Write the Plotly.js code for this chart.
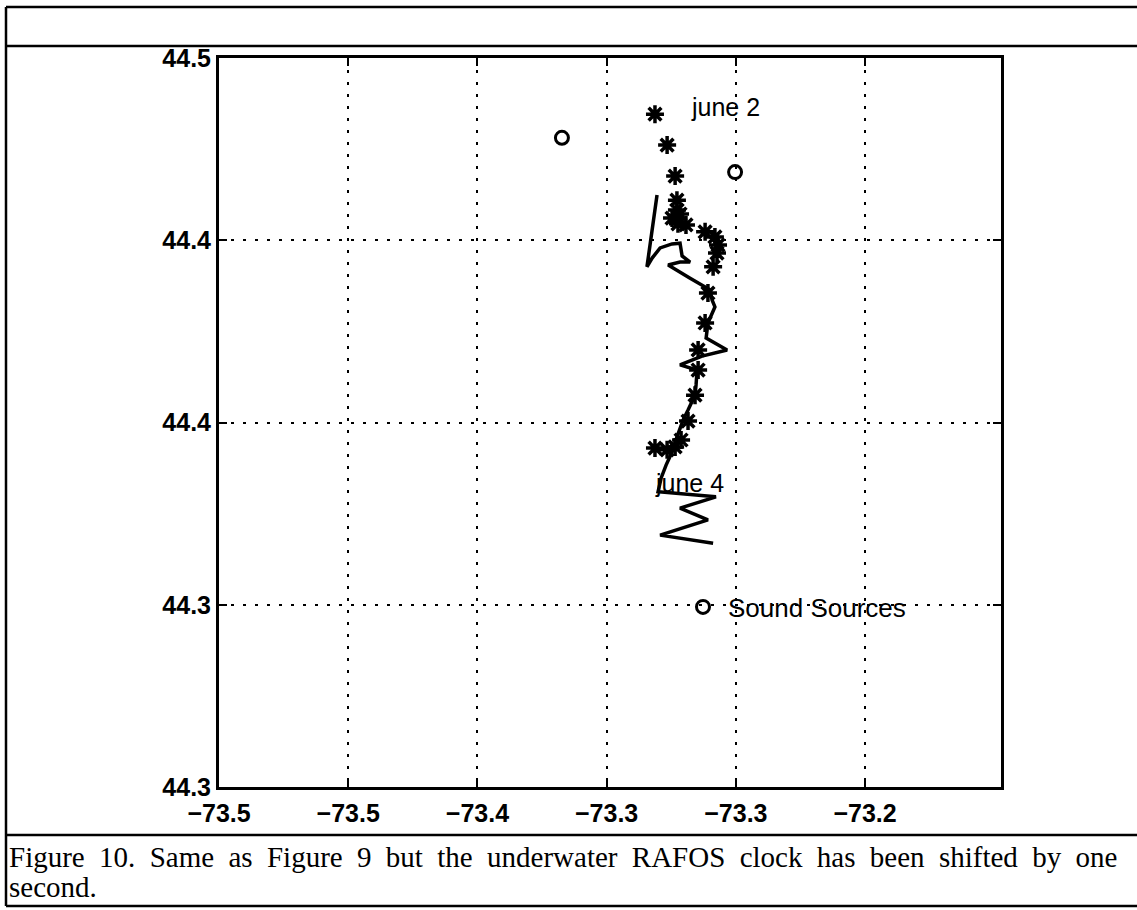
<!DOCTYPE html>
<html><head><meta charset="utf-8">
<script src="https://cdn.plot.ly/plotly-3.0.1.min.js"></script>
<style>html,body{margin:0;padding:0;background:#fff}#chart{width:1137px;height:910px}</style>
</head><body><div id="chart"></div>
<script>
// Axis ticks (labels as printed in the figure)
const xTickVals = [-73.5, -73.45, -73.4, -73.35, -73.3, -73.25];
const xTickText = ['\u221273.5', '\u221273.5', '\u221273.4', '\u221273.3', '\u221273.3', '\u221273.2'];
const yTickVals = [44.3, 44.35, 44.4, 44.45, 44.5];
const yTickText = ['44.3', '44.3', '44.4', '44.4', '44.5'];

// Sound sources (open circles)
const sourceLon = [-73.3673, -73.3003];
const sourceLat = [44.4781, 44.4687];

// Asterisk fixes
const fixLon = [-73.3313, -73.3266, -73.3235, -73.3228, -73.3228, -73.3247, -73.3224, -73.3193, -73.3216,
                -73.3119, -73.3081, -73.3069, -73.3073, -73.3088, -73.3108, -73.3119, -73.3146, -73.3146,
                -73.3158, -73.3185, -73.3212, -73.3235, -73.3266, -73.3313];
const fixLat = [44.4846, 44.4761, 44.4676, 44.4610, 44.4583, 44.4561, 44.4545, 44.4542, 44.4572,
                44.4523, 44.4509, 44.4487, 44.4465, 44.4427, 44.4355, 44.4273, 44.4199, 44.4144,
                44.4075, 44.4004, 44.3952, 44.3933, 44.3925, 44.3930];

// Solid track
const trackLon = [-73.3305, -73.3344, -73.3324, -73.3293, -73.3247, -73.3216, -73.3208, -73.3177, -73.3216,
                  -73.3262, -73.3177, -73.3100, -73.3092, -73.3081, -73.3108, -73.3115, -73.3034, -73.3131,
                  -73.3216, -73.3150, -73.3154, -73.3158, -73.3185, -73.3204, -73.3228, -73.3247, -73.3270,
                  -73.3289, -73.3301, -73.3077, -73.3216, -73.3108, -73.3293, -73.3088];
const trackLat = [44.4624, 44.4427, 44.4451, 44.4479, 44.4490, 44.4492, 44.4457, 44.4440, 44.4440,
                  44.4432, 44.4396, 44.4364, 44.4336, 44.4317, 44.4273, 44.4232, 44.4199, 44.4182,
                  44.4158, 44.4144, 44.4103, 44.4075, 44.4034, 44.4007, 44.3960, 44.3919, 44.3883,
                  44.3848, 44.3810, 44.3796, 44.3765, 44.3733, 44.3691, 44.3669];

// Date labels
const labelText = ['june 2', 'june 4'];
const labelLon = [-73.3181, -73.3320];
const labelLat = [44.4866, 44.3834];

const captionLines = ['Figure 10. Same as Figure 9 but the underwater RAFOS clock has been shifted by one', 'second.'];

// page geometry helpers (pixel -> paper)
const W = 1137, H = 910, L = 219, R = 136, T = 58, B = 123;
const pw = W - L - R, ph = H - T - B;
const px = v => (v - L) / pw;
const py = v => (H - B - v) / ph;

const sans = 'Liberation Sans, Arial, Helvetica, sans-serif';
const serif = 'Liberation Serif, Times New Roman, serif';

const traces = [
  {x: trackLon, y: trackLat, type: 'scatter', mode: 'lines', showlegend: false,
   line: {color: '#000', width: 3.5}, hoverinfo: 'skip'},
  {x: fixLon, y: fixLat, type: 'scatter', mode: 'markers', showlegend: false,
   marker: {symbol: 'asterisk-open', size: 15, color: '#000', line: {color: '#000', width: 3.5}}},
  {x: sourceLon, y: sourceLat, type: 'scatter', mode: 'markers', name: 'Sound Sources',
   marker: {symbol: 'circle-open', size: 13, color: '#000', line: {color: '#000', width: 3}}}
];

function hline(y, x0, x1) {
  return {type: 'line', xref: 'paper', yref: 'paper', x0: px(x0), x1: px(x1), y0: py(y), y1: py(y),
          line: {color: '#000', width: 2.5}};
}
const shapes = [
  hline(7, 6, 1137), hline(46, 6, 1137), hline(835, 6, 1137), hline(906, 6, 1137),
  {type: 'line', xref: 'paper', yref: 'paper', x0: px(6), x1: px(6), y0: py(7), y1: py(906),
   line: {color: '#000', width: 2.5}}
];

const annotations = labelText.map((t, i) => ({
  x: labelLon[i], y: labelLat[i], xref: 'x', yref: 'y', text: t, showarrow: false,
  xanchor: 'left', yanchor: 'middle', font: {family: sans, size: 25, color: '#000'}
}));
annotations.push({xref: 'paper', yref: 'paper', x: px(7), y: py(857), xanchor: 'left', yanchor: 'middle',
  text: captionLines[0], showarrow: false, font: {family: serif, size: 29, color: '#000'}});
annotations.push({xref: 'paper', yref: 'paper', x: px(7), y: py(887), xanchor: 'left', yanchor: 'middle',
  text: captionLines[1], showarrow: false, font: {family: serif, size: 29, color: '#000'}});

const axisCommon = {
  showline: true, linecolor: '#000', linewidth: 3, mirror: 'ticks',
  showgrid: true, gridcolor: '#000', gridwidth: 2, griddash: '3px,9px',
  zeroline: false, ticks: 'inside', ticklen: 8, tickwidth: 2, tickcolor: '#000',
  tickmode: 'array', tickfont: {family: sans, size: 25, color: '#000', weight: 'bold'}
};

const layout = {
  width: W, height: H, margin: {l: L, r: R, t: T, b: B},
  paper_bgcolor: '#fff', plot_bgcolor: '#fff',
  xaxis: Object.assign({}, axisCommon, {range: [-73.5, -73.1974], tickvals: xTickVals, ticktext: xTickText,
          ticklabelstandoff: 2}),
  yaxis: Object.assign({}, axisCommon, {range: [44.3, 44.5], tickvals: yTickVals, ticktext: yTickText,
          ticklabelstandoff: 0}),
  showlegend: true,
  legend: {x: px(678), y: py(607), xanchor: 'left', yanchor: 'middle', bgcolor: 'rgba(0,0,0,0)',
           borderwidth: 0, itemwidth: 40, font: {family: sans, size: 26, color: '#000'}},
  shapes: shapes, annotations: annotations
};

Plotly.newPlot('chart', traces, layout, {displayModeBar: false, staticPlot: true}).then(() => {
  document.querySelectorAll('.annotation-text').forEach(el => {
    if (el.textContent.indexOf('Figure 10') === 0) {
      const bb = el.getBBox();
      el.setAttribute('text-anchor', 'start');
      el.setAttribute('x', bb.x);
      el.style.wordSpacing = '7.1px';
    }
  });
});
</script>
</body></html>
